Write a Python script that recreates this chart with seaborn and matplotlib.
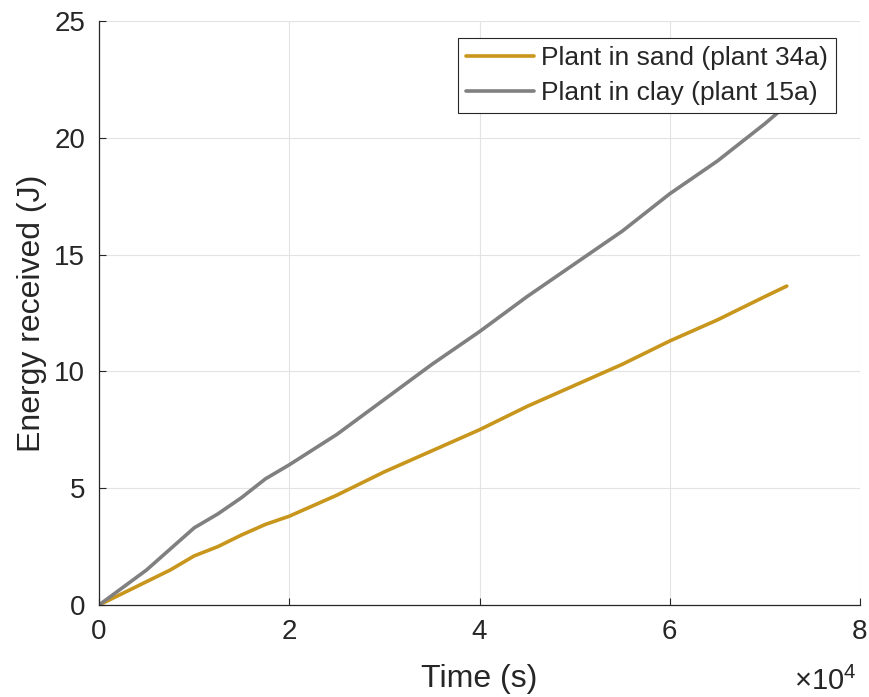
import numpy as np
import pandas as pd
import matplotlib
matplotlib.use("Agg")
import matplotlib.pyplot as plt
import seaborn as sns

# Data (time in units of 1e4 s, energy in J)
time_sand = [0, 0.25, 0.5, 0.75, 1.0, 1.25, 1.5, 1.75, 2.0, 2.5, 3.0, 3.5, 4.0, 4.5, 5.0, 5.5, 6.0, 6.5, 7.0, 7.23]
energy_sand = [0, 0.5, 1.0, 1.5, 2.1, 2.5, 3.0, 3.45, 3.8, 4.7, 5.7, 6.6, 7.5, 8.5, 9.4, 10.3, 11.3, 12.2, 13.2, 13.65]
time_clay = [0, 0.25, 0.5, 0.75, 1.0, 1.25, 1.5, 1.75, 2.0, 2.5, 3.0, 3.5, 4.0, 4.5, 5.0, 5.5, 6.0, 6.5, 7.0, 7.23]
energy_clay = [0, 0.75, 1.5, 2.4, 3.3, 3.9, 4.6, 5.4, 6.0, 7.3, 8.8, 10.3, 11.7, 13.2, 14.6, 16.0, 17.6, 19.0, 20.6, 21.4]
labels = ["Plant in sand (plant 34a)", "Plant in clay (plant 15a)"]
xticks = [0, 2, 4, 6, 8]
yticks = [0, 5, 10, 15, 20, 25]

df = pd.concat([
    pd.DataFrame({"t": time_sand, "E": energy_sand, "series": labels[0]}),
    pd.DataFrame({"t": time_clay, "E": energy_clay, "series": labels[1]}),
])

sns.set_theme(style="whitegrid")
plt.rcParams["font.family"] = ["Liberation Sans", "DejaVu Sans"]
plt.rcParams["mathtext.fontset"] = "custom"
plt.rcParams["mathtext.rm"] = "Liberation Sans"

fig = plt.figure(figsize=(8.7, 6.97), dpi=100)
ax = fig.add_axes([0.1138, 0.132, 0.8747, 0.838])

palette = {labels[0]: "#C8961C", labels[1]: "#808080"}
sns.lineplot(data=df, x="t", y="E", hue="series", palette=palette,
             linewidth=2.6, ax=ax, legend=True)

ax.set_xlim(0, 8)
ax.set_ylim(0, 25)
ax.set_xticks(xticks)
ax.set_yticks(yticks)
ax.set_xticklabels([str(v) for v in xticks])
ax.set_yticklabels([str(v) for v in yticks])
ax.set_facecolor("white")
ax.grid(True, color="#e3e3e3", linewidth=0.8)
for s in ["top", "right"]:
    ax.spines[s].set_visible(False)
for s in ["left", "bottom"]:
    ax.spines[s].set_color("#262626")
    ax.spines[s].set_linewidth(0.9)
ax.tick_params(axis="both", direction="in", length=5, width=0.8, colors="#262626",
               labelsize=20, pad=10, left=True, bottom=True)
ax.set_xlabel("Time (s)", fontsize=23, color="#262626", labelpad=14)
ax.set_ylabel("Energy received (J)", fontsize=23, color="#262626", labelpad=5)

fig.text(0.984, 0.002, r"$\times10^{4}$", ha="right", va="bottom",
         fontsize=21, color="#262626")

leg = ax.legend(loc="upper right", bbox_to_anchor=(0.968, 0.97), fontsize=19,
                frameon=True, fancybox=False, handlelength=2.6, borderpad=0.3,
                labelspacing=0.42, handletextpad=0.25, borderaxespad=0)
leg.get_frame().set_edgecolor("#262626")
leg.get_frame().set_linewidth(0.8)
leg.get_frame().set_alpha(1)
for t in leg.get_texts():
    t.set_color("#262626")

fig.savefig("out.png", dpi=100)
